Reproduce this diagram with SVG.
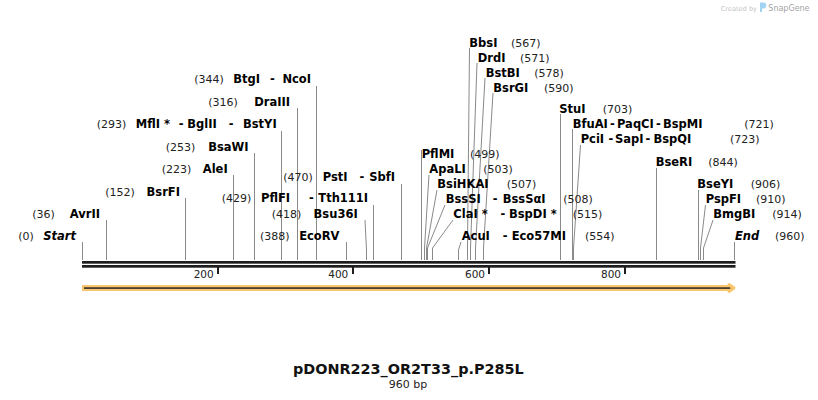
<svg xmlns="http://www.w3.org/2000/svg" width="818" height="400" viewBox="0 0 818 400">
<style>
text{font-family:"DejaVu Sans",Verdana,"Liberation Sans",sans-serif}
.lb{font-size:11.5px;font-weight:bold;fill:#000}
.nm{font-size:11px;font-weight:normal;fill:#222}
.it{font-style:italic}
.en{text-anchor:end}
.cn{stroke:#8a8a8a;stroke-width:1;fill:none}
.tk{font-size:10.5px;fill:#222;text-anchor:end}
</style>
<rect width="818" height="400" fill="#fff"/>
<g id="watermark">
<text x="720.7" y="10.5" font-size="6.6" fill="#c4c4c4">Created by</text>
<path d="M760 2.5 h3.3 a3 3 0 0 1 0 6 h-1.3 v3.5 h-2 z" fill="#a3d3f2"/>
<text x="768.3" y="10.5" font-size="8" fill="#a3a3a3">SnapGene</text>
</g>
<g id="connectors">
<path class="cn" d="M82.5 242V260"/>
<path class="cn" d="M106.5 220V260"/>
<path class="cn" d="M185.5 198V260"/>
<path class="cn" d="M233.5 175V260"/>
<path class="cn" d="M254.5 153V260"/>
<path class="cn" d="M281.5 131V260"/>
<path class="cn" d="M297.5 108V260"/>
<path class="cn" d="M316.5 86V260"/>
<path class="cn" d="M346.5 242V260"/>
<path class="cn" d="M365 220L366.5 250V260"/>
<path class="cn" d="M373.5 205V260"/>
<path class="cn" d="M401.5 184V260"/>
<path class="cn" d="M469.5 48L467.5 248V260"/>
<path class="cn" d="M477 63L470.5 248V260"/>
<path class="cn" d="M485 78L475.5 248V260"/>
<path class="cn" d="M493 93L483.5 248V260"/>
<path class="cn" d="M560.5 114V260"/>
<path class="cn" d="M572.5 129V260"/>
<path class="cn" d="M580.5 145L573.5 248V260"/>
<path class="cn" d="M421.5 150V260"/>
<path class="cn" d="M429 175L424.5 248V260"/>
<path class="cn" d="M437 190L426.5 248V260"/>
<path class="cn" d="M445 205L427.5 248V260"/>
<path class="cn" d="M453 220L432.5 248V260"/>
<path class="cn" d="M461 242L458.5 250V260"/>
<path class="cn" d="M656.5 168V260"/>
<path class="cn" d="M698.5 190V260"/>
<path class="cn" d="M705.5 205L700.5 248V260"/>
<path class="cn" d="M713 220L703.5 248V260"/>
<path class="cn" d="M734.5 242V260"/>
</g>
<g id="backbone">
<rect x="82" y="261" width="653.5" height="2.7" fill="#1e1e1e"/>
<rect x="82" y="265" width="653.5" height="2.7" fill="#1e1e1e"/>
<rect x="217" y="267" width="2" height="7" fill="#1e1e1e"/>
<rect x="352" y="267" width="2" height="7" fill="#1e1e1e"/>
<rect x="488" y="267" width="2" height="7" fill="#1e1e1e"/>
<rect x="624" y="267" width="2" height="7" fill="#1e1e1e"/>
<text class="tk" x="213.7" y="278">200</text>
<text class="tk" x="348.3" y="278">400</text>
<text class="tk" x="485" y="278">600</text>
<text class="tk" x="621" y="278">800</text>
</g>
<g id="feature">
<rect x="82" y="285" width="648" height="6" fill="#f9c56e"/>
<path d="M729 284.5L734 288L729 291.5Z" fill="#4b3f2f" stroke="#f9c56e" stroke-width="3" stroke-linejoin="round"/>
<rect x="84" y="287.2" width="646" height="1.8" fill="#4b3f2f"/>
</g>
<g id="site-BtgI-NcoI"><text class="lb" y="83"><tspan class="nm" x="194.3">(344)</tspan><tspan x="233.3">BtgI</tspan><tspan x="270">-</tspan></text><text class="lb en" x="311" y="83">NcoI</text></g>
<g id="site-DraIII"><text class="lb nm" x="208.3" y="106">(316)</text><text class="lb en" x="290" y="106">DraIII</text></g>
<g id="site-MflI-BglII-BstYI"><text class="lb" y="128"><tspan class="nm" x="96.7">(293)</tspan><tspan x="135.7">MflI *</tspan><tspan x="178.7">-</tspan><tspan x="187.3">BglII</tspan><tspan x="228.7">-</tspan></text><text class="lb en" x="276.7" y="128">BstYI</text></g>
<g id="site-BsaWI"><text class="lb nm" x="165.7" y="151">(253)</text><text class="lb en" x="248.5" y="151">BsaWI</text></g>
<g id="site-AleI"><text class="lb nm" x="161.7" y="173">(223)</text><text class="lb en" x="227.7" y="173">AleI</text></g>
<g id="site-BsrFI"><text class="lb nm" x="105.3" y="196">(152)</text><text class="lb en" x="180" y="196">BsrFI</text></g>
<g id="site-AvrII"><text class="lb nm" x="32.3" y="218">(36)</text><text class="lb en" x="100" y="218">AvrII</text></g>
<g id="site-Start"><text class="lb nm" x="18.3" y="240">(0)</text><text class="lb en it" x="76" y="240">Start</text></g>
<g id="site-EcoRV"><text class="lb nm" x="260" y="240">(388)</text><text class="lb en" x="339.5" y="240">EcoRV</text></g>
<g id="site-Bsu36I"><text class="lb nm" x="271.7" y="217.5">(418)</text><text class="lb en" x="357.7" y="217.5">Bsu36I</text></g>
<g id="site-PflFI-Tth111I"><text class="lb" y="202"><tspan class="nm" x="221.7">(429)</tspan><tspan x="261">PflFI</tspan><tspan x="309">-</tspan><tspan x="318.3">Tth111I</tspan></text></g>
<g id="site-PstI-SbfI"><text class="lb" y="181"><tspan class="nm" x="283.3">(470)</tspan><tspan x="322.7">PstI</tspan><tspan x="359.4">-</tspan></text><text class="lb en" x="395" y="181">SbfI</text></g>
<g id="site-BbsI"><text class="lb" y="46.5"><tspan x="469.3">BbsI</tspan><tspan class="nm" x="511">(567)</tspan></text></g>
<g id="site-DrdI"><text class="lb" y="61.5"><tspan x="477.7">DrdI</tspan><tspan class="nm" x="520">(571)</tspan></text></g>
<g id="site-BstBI"><text class="lb" y="76.5"><tspan x="485.7">BstBI</tspan><tspan class="nm" x="534.3">(578)</tspan></text></g>
<g id="site-BsrGI"><text class="lb" y="91.5"><tspan x="493.3">BsrGI</tspan><tspan class="nm" x="544">(590)</tspan></text></g>
<g id="site-StuI"><text class="lb" y="112.5"><tspan x="559.3">StuI</tspan><tspan class="nm" x="602.7">(703)</tspan></text></g>
<g id="site-BfuAI-PaqCI-BspMI"><text class="lb" y="127.5"><tspan x="572.7">BfuAI</tspan><tspan x="610">-</tspan><tspan x="617">PaqCI</tspan><tspan x="656">-</tspan><tspan x="663">BspMI</tspan><tspan class="nm" x="744.3">(721)</tspan></text></g>
<g id="site-PciI-SapI-BspQI"><text class="lb" y="142.5"><tspan x="580.7">PciI</tspan><tspan x="608.5">-</tspan><tspan x="615">SapI</tspan><tspan x="645.5">-</tspan><tspan x="653.5">BspQI</tspan><tspan class="nm" x="730">(723)</tspan></text></g>
<g id="site-PflMI"><text class="lb" y="158"><tspan x="421.7">PflMI</tspan><tspan class="nm" x="470">(499)</tspan></text></g>
<g id="site-ApaLI"><text class="lb" y="173"><tspan x="429.3">ApaLI</tspan><tspan class="nm" x="483.3">(503)</tspan></text></g>
<g id="site-BsiHKAI"><text class="lb" y="188"><tspan x="437.3">BsiHKAI</tspan><tspan class="nm" x="506.7">(507)</tspan></text></g>
<g id="site-BssSI-BssSaI"><text class="lb" y="203"><tspan x="445.7">BssSI</tspan><tspan x="492.7">-</tspan><tspan x="502.7">BssSαI</tspan><tspan class="nm" x="563.3">(508)</tspan></text></g>
<g id="site-ClaI-BspDI"><text class="lb" y="218"><tspan x="453.3">ClaI *</tspan><tspan x="500.4">-</tspan><tspan x="509">BspDI *</tspan><tspan class="nm" x="572.7">(515)</tspan></text></g>
<g id="site-AcuI-Eco57MI"><text class="lb" y="240"><tspan x="461.7">AcuI</tspan><tspan x="502.7">-</tspan><tspan x="511.7">Eco57MI</tspan><tspan class="nm" x="585">(554)</tspan></text></g>
<g id="site-BseRI"><text class="lb" y="166"><tspan x="655.7">BseRI</tspan><tspan class="nm" x="708.3">(844)</tspan></text></g>
<g id="site-BseYI"><text class="lb" y="188"><tspan x="697.3">BseYI</tspan><tspan class="nm" x="750.7">(906)</tspan></text></g>
<g id="site-PspFI"><text class="lb" y="203"><tspan x="705.7">PspFI</tspan><tspan class="nm" x="756">(910)</tspan></text></g>
<g id="site-BmgBI"><text class="lb" y="218"><tspan x="713.3">BmgBI</tspan><tspan class="nm" x="772.3">(914)</tspan></text></g>
<g id="site-End"><text class="lb" y="240"><tspan class="it" x="735">End</tspan><tspan class="nm" x="775">(960)</tspan></text></g>
<g id="title">
<text x="408.3" y="374" font-size="14.4" font-weight="bold" fill="#111" text-anchor="middle">pDONR223_OR2T33_p.P285L</text>
<text x="408" y="388" font-size="11" fill="#222" text-anchor="middle">960 bp</text>
</g>
</svg>
